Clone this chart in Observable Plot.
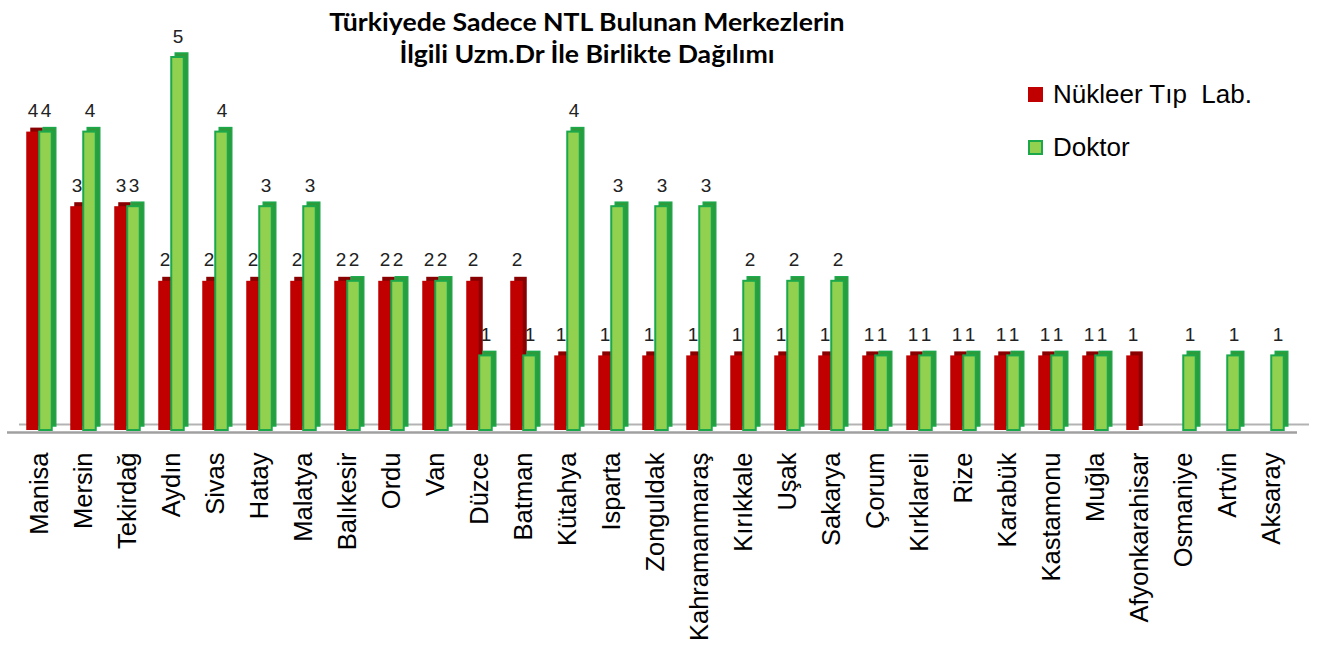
<!DOCTYPE html>
<html><head><meta charset="utf-8">
<script src="https://cdn.jsdelivr.net/npm/d3@7"></script>
<script src="https://cdn.jsdelivr.net/npm/@observablehq/plot@0.6"></script>
<style>
body{margin:0;background:#fff;}
#wrap{position:relative;width:1317px;height:655px;overflow:hidden;background:#fff;}
#title{position:absolute;left:0;width:1174px;top:6px;text-align:center;font:bold 24px Lato, "Open Sans", sans-serif;line-height:32px;color:#000;transform:scaleX(1.11);transform-origin:587px 0;}
#legend{position:absolute;left:1028px;top:77px;font:26px "Liberation Sans", Arial, sans-serif;color:#000;}
#legend .item{display:flex;align-items:center;height:34px;margin-bottom:19px;}
#legend .sw{display:inline-block;width:15px;height:15px;margin-right:10px;box-sizing:border-box;}
#legend .red{background:#c00000;}
#legend .green{background:#92d050;border:2px solid #1aa84a;}
#chart{position:absolute;left:0;top:0;}
</style></head>
<body>
<div id="wrap">
  <div id="chart"></div>
  <div id="title">Türkiyede Sadece NTL Bulunan Merkezlerin<br>İlgili Uzm.Dr İle Birlikte Dağılımı</div>
  <div id="legend">
    <div class="item"><span class="sw red"></span>Nükleer Tıp&nbsp; Lab.</div>
    <div class="item"><span class="sw green"></span>Doktor</div>
  </div>
</div>
<script>
const cities = ["Manisa","Mersin","Tekirdağ","Aydın","Sivas","Hatay","Malatya","Balıkesir","Ordu","Van","Düzce","Batman","Kütahya","Isparta","Zonguldak","Kahramanmaraş","Kırıkkale","Uşak","Sakarya","Çorum","Kırklareli","Rize","Karabük","Kastamonu","Muğla","Afyonkarahisar","Osmaniye","Artvin","Aksaray"];
const ntl    = [4,3,3,2,2,2,2,2,2,2,2,2,1,1,1,1,1,1,1,1,1,1,1,1,1,1,0,0,0];
const doktor = [4,4,3,5,4,3,3,2,2,2,1,1,4,3,3,3,2,2,2,1,1,1,1,1,1,0,1,1,1];

const ntlRows = cities.map((c,i)=>({city:c, value:ntl[i]})).filter(d=>d.value>0);
const drRows  = cities.map((c,i)=>({city:c, value:doktor[i]})).filter(d=>d.value>0);

const bw = 13;
const font = "'Liberation Sans', Arial, sans-serif";
const chart = Plot.plot({
  width:1317, height:655,
  marginTop:57, marginBottom:225, marginLeft:10, marginRight:17,
  style:{fontFamily:font, background:"transparent"},
  x:{domain:cities, padding:0},
  y:{domain:[0,5], axis:null},
  marks:[
    Plot.ruleY([0], {dx:9, dy:-6, stroke:"#b3b3b3", strokeWidth:2}),
    Plot.ruleY([0], {dx:-3, dy:2, stroke:"#a0a0a0", strokeWidth:2.5}),
    // red bars (3D side then front)
    Plot.barY(ntlRows, {x:"city", y:"value", insetLeft:22.25-bw, insetRight:22.25, dx:4, dy:-4, fill:"#880000"}),
    Plot.barY(ntlRows, {x:"city", y:"value", insetLeft:22.25-bw, insetRight:22.25, fill:"#c00000"}),
    // green bars
    Plot.barY(drRows, {x:"city", y:"value", insetLeft:22.25, insetRight:22.25-bw, dx:4, dy:-4, fill:"#2f9a3a", stroke:"#1aa84a", strokeWidth:1.5}),
    Plot.barY(drRows, {x:"city", y:"value", insetLeft:22.25, insetRight:22.25-bw, fill:"#92d050", stroke:"#1aa84a", strokeWidth:2}),
    Plot.text(ntlRows, {x:"city", y:"value", text:d=>String(d.value), dx:-6.5, dy:-15, lineAnchor:"bottom", fontSize:19, fill:"#222"}),
    Plot.text(drRows, {x:"city", y:"value", text:d=>String(d.value), dx:6.5, dy:-15, lineAnchor:"bottom", fontSize:19, fill:"#222"}),
    Plot.axisX({tickSize:0, tickRotate:-90, tickPadding:22, fontSize:25.5, fill:"#000", label:null})
  ]
});
document.getElementById("chart").appendChild(chart);
</script>
</body></html>
